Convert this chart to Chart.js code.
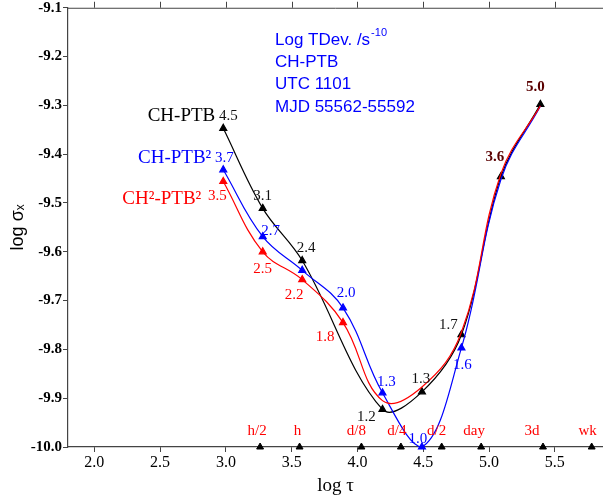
<!DOCTYPE html>
<html>
<head>
<meta charset="utf-8">
<script src="https://cdn.jsdelivr.net/npm/chart.js@4/dist/chart.umd.min.js"></script>
<style>
  html, body { margin: 0; padding: 0; background: #fff; }
  #wrap { width: 603px; height: 498px; position: relative; }
</style>
</head>
<body>
<div id="wrap"><canvas id="chart"></canvas></div>
<script>
// Data (log tau, log TDev)
const tauBlack = [2.98, 3.28, 3.58, 4.19, 4.49, 4.79, 5.09, 5.39];
const devBlack = [-9.347, -9.511, -9.618, -9.923, -9.887, -9.770, -9.446, -9.298];
const labelsBlack = ['4.5', '3.1', '2.4', '1.2', '1.3', '1.7', '3.6', '5.0'];

const tauColor = [2.98, 3.28, 3.58, 3.89, 4.19, 4.49, 4.79, 5.09, 5.39];
const devBlue = [-9.432, -9.569, -9.638, -9.715, -9.889, -10.0, -9.797, -9.452, -9.302];
const labelsBlue = ['3.7', '2.7', '', '2.0', '1.3', '1.0', '1.6', '', ''];
const devRed = [-9.456, -9.600, -9.657, -9.745, -9.905, -9.877, -9.765, -9.440, -9.301];
const labelsRed = ['3.5', '2.5', '2.2', '1.8', '', '', '', '', ''];

const seriesNames = ['CH-PTB', 'CH-PTB²', 'CH²-PTB²'];

// time marks along the bottom
const timeTau = [3.26, 3.56, 4.03, 4.33, 4.64, 4.94, 5.41, 5.78];
const timeNames = ['h/2', 'h', 'd/8', 'd/4', 'd/2', 'day', '3d', 'wk'];

const xTicks = [2.0, 2.5, 3.0, 3.5, 4.0, 4.5, 5.0, 5.5];
const yTicks = [-10.0, -9.9, -9.8, -9.7, -9.6, -9.5, -9.4, -9.3, -9.2, -9.1];

const infoLines = ['CH-PTB', 'UTC 1101', 'MJD 55562-55592'];

// label offsets (px) relative to points
const offBlack = [[5, -12], [0, -12], [4, -13], [-16, 8], [-1, -13], [-13, -10], [-6, -19], [-5, -17]];
const offBlue = [[1, -12], [8, -6], [0, 0], [3, -15], [4, -11], [-4, -8], [1, 17], [0, 0], [0, 0]];
const offRed = [[-6, 15], [0, 17], [-8, 15], [-18, 15], [0, 0], [0, 0], [0, 0], [0, 0], [0, 0]];
const nameOff = [[-8, -12], [-12, -12], [-22, 18]];
const timeOff = [-3, -2, -5, -4, -5, -7, -11, -4];

const SERIF = '"Liberation Serif", "Times New Roman", serif';
const SANS = '"Liberation Sans", Arial, sans-serif';
const BLUE = '#0000ff';
const RED = '#ff0000';
const MAROON = '#5a0000';

function pts(xs, ys) {
    return xs.map((x, i) => ({ x: x, y: ys[i] }));
}

const ds = [
    {
        label: seriesNames[2], data: pts(tauColor, devRed),
        borderColor: RED, backgroundColor: RED, borderWidth: 1.2,
        pointRadius: devRed.map((v, i) => i < 4 ? 4 : 0),
        tx: labelsRed, off: offRed, col: RED
    },
    {
        label: seriesNames[1], data: pts(tauColor, devBlue),
        borderColor: BLUE, backgroundColor: BLUE, borderWidth: 1.2,
        pointRadius: devBlue.map((v, i) => i < 7 ? 4 : 0),
        tx: labelsBlue, off: offBlue, col: BLUE
    },
    {
        label: seriesNames[0], data: pts(tauBlack, devBlack),
        borderColor: '#000', backgroundColor: '#000', borderWidth: 1.2,
        pointRadius: 4, tension: 0.36,
        tx: labelsBlack, off: offBlack, col: '#111'
    },
    {
        label: 'times', data: timeTau.map(t => ({ x: t, y: -10.0 })),
        showLine: false, borderColor: '#000', backgroundColor: '#000',
        pointRadius: 4, tx: timeNames, time: true
    }
];

const labelPlugin = {
    id: 'labels',
    afterDatasetsDraw(chart) {
        const ctx = chart.ctx;
        const a = chart.chartArea;
        const xs = chart.scales.x;
        ctx.save();
        // top frame line with outward ticks
        ctx.strokeStyle = '#444';
        ctx.lineWidth = 1;
        ctx.beginPath();
        ctx.moveTo(a.left, a.top + 0.5);
        ctx.lineTo(a.right, a.top + 0.5);
        xTicks.forEach(t => {
            const px = Math.round(xs.getPixelForValue(t)) + 0.5;
            ctx.moveTo(px, a.top);
            ctx.lineTo(px, a.top - 6);
        });
        ctx.stroke();

        ctx.textAlign = 'center';
        ctx.textBaseline = 'middle';
        chart.data.datasets.forEach((d, di) => {
            const meta = chart.getDatasetMeta(di);
            meta.data.forEach((p, i) => {
                const t = d.tx[i];
                if (!t) return;
                if (d.time) {
                    ctx.font = '15px ' + SERIF;
                    ctx.fillStyle = RED;
                    ctx.fillText(t, p.x + timeOff[i], p.y - 16);
                    return;
                }
                const shared = d.col === '#111' && i >= 6;
                ctx.font = (shared ? 'bold ' : '') + '15px ' + SERIF;
                ctx.fillStyle = shared ? MAROON : d.col;
                ctx.fillText(t, p.x + d.off[i][0], p.y + d.off[i][1]);
            });
        });

        // series names next to the first point
        [2, 1, 0].forEach((di, k) => {
            const p = chart.getDatasetMeta(di).data[0];
            const d = chart.data.datasets[di];
            ctx.font = '19px ' + SERIF;
            ctx.fillStyle = d.col === '#111' ? '#000' : d.col;
            ctx.textAlign = 'right';
            ctx.fillText(d.label, p.x + nameOff[k][0], p.y + nameOff[k][1]);
        });

        // info block
        ctx.textAlign = 'left';
        ctx.fillStyle = BLUE;
        ctx.font = '17px ' + SANS;
        const x0 = 275;
        ctx.fillText('Log TDev. /s', x0, 40);
        const w = ctx.measureText('Log TDev. /s').width;
        ctx.font = '11px ' + SANS;
        ctx.fillText('-10', x0 + w + 1, 33);
        ctx.font = '17px ' + SANS;
        infoLines.forEach((s, i) => ctx.fillText(s, x0, 62 + i * 22.7));
        ctx.restore();
    }
};

new Chart(document.getElementById('chart'), {
    type: 'line',
    data: { datasets: ds },
    options: {
        responsive: true,
        maintainAspectRatio: false,
        animation: false,
        layout: { autoPadding: false, padding: { top: 7, right: 0, left: 0, bottom: 0 } },
        elements: {
            line: { tension: 0.4, fill: false },
            point: { pointStyle: 'triangle', borderWidth: 1 }
        },
        datasets: { line: { clip: false } },
        plugins: {
            legend: { display: false },
            tooltip: { enabled: false }
        },
        scales: {
            x: {
                type: 'linear',
                min: 1.8, max: 5.866,
                afterBuildTicks: s => { s.ticks = xTicks.map(v => ({ value: v })); },
                afterFit: s => { s.height = 51; },
                grid: { drawOnChartArea: false, drawTicks: true, tickLength: 5, color: '#444' },
                border: { display: true, color: '#444', width: 1.2 },
                ticks: {
                    color: '#000', padding: 1,
                    font: { family: SERIF, size: 16 },
                    callback: v => v.toFixed(1)
                },
                title: {
                    display: true, text: 'log τ', color: '#000',
                    font: { family: SERIF, size: 19 },
                    padding: { top: 0, bottom: 1 }
                }
            },
            y: {
                type: 'linear',
                min: -10.0, max: -9.1,
                afterBuildTicks: s => { s.ticks = yTicks.map(v => ({ value: v })); },
                afterFit: s => { s.width = 68; },
                grid: { drawOnChartArea: false, drawTicks: true, tickLength: 5, color: '#444' },
                border: { display: true, color: '#444', width: 1.2 },
                ticks: {
                    color: '#000', padding: 1,
                    font: { family: SERIF, size: 15, weight: 'bold', lineHeight: 0.9 },
                    callback: v => v.toFixed(1)
                },
                title: {
                    display: true, text: 'log σₓ', color: '#000',
                    font: { family: SANS, size: 18 },
                    padding: { top: 7, bottom: 0 }
                }
            }
        }
    },
    plugins: [labelPlugin]
});
</script>
</body>
</html>
